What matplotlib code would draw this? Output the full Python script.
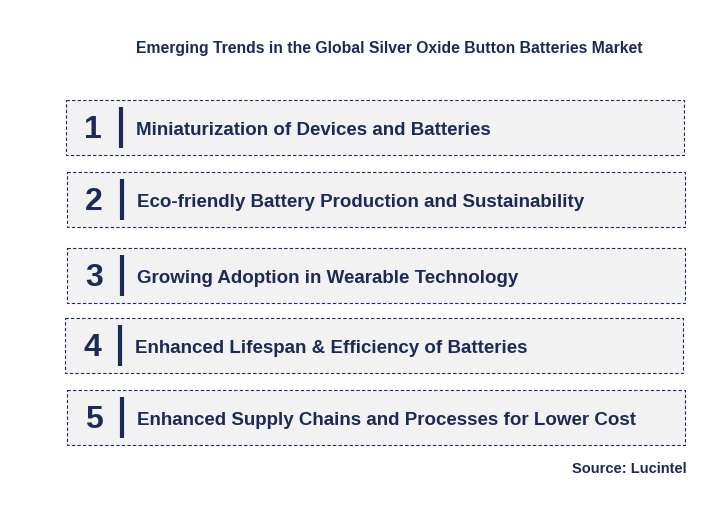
import matplotlib
matplotlib.use("Agg")
import matplotlib.pyplot as plt
from matplotlib.patches import Rectangle

title = "Emerging Trends in the Global Silver Oxide Button Batteries Market"
numbers = ["1", "2", "3", "4", "5"]
trends = [
    "Miniaturization of Devices and Batteries",
    "Eco-friendly Battery Production and Sustainability",
    "Growing Adoption in Wearable Technology",
    "Enhanced Lifespan & Efficiency of Batteries",
    "Enhanced Supply Chains and Processes for Lower Cost",
]
source = "Source: Lucintel"

navy = "#1b2a57"
box_x = [66, 67, 67, 65, 67]
box_y = [100, 172, 248, 318, 390]
box_w, box_h = 618, 55

fig = plt.figure(figsize=(7.12, 5.21), dpi=100)
ax = fig.add_axes([0, 0, 1, 1])
ax.set_xlim(0, 712)
ax.set_ylim(521, 0)
ax.axis("off")

ax.text(389, 49, title, ha="center", va="center", fontsize=11.3,
        fontweight="bold", color=navy, family="Liberation Sans")
for n, t, x, y in zip(numbers, trends, box_x, box_y):
    ax.add_patch(Rectangle((x, y), box_w, box_h, facecolor="#f2f2f2",
                           edgecolor=navy, linestyle=(0, (3, 2)), linewidth=0.8))
    cy = y + box_h / 2
    ax.text(x + 27, cy + 3, n, ha="center", va="center", fontsize=23,
            fontweight="bold", color=navy, family="Liberation Sans")
    ax.plot([x + 55, x + 55], [y + 7, y + box_h - 7], color=navy, linewidth=3,
            solid_capstyle="butt")
    ax.text(x + 70, cy + 3, t, ha="left", va="center", fontsize=13.5,
            fontweight="bold", color=navy, family="Liberation Sans")
ax.text(687, 469, source, ha="right", va="center", fontsize=10.5,
        fontweight="bold", color=navy, family="Liberation Sans")

fig.savefig("out.png", dpi=100, facecolor="white")
